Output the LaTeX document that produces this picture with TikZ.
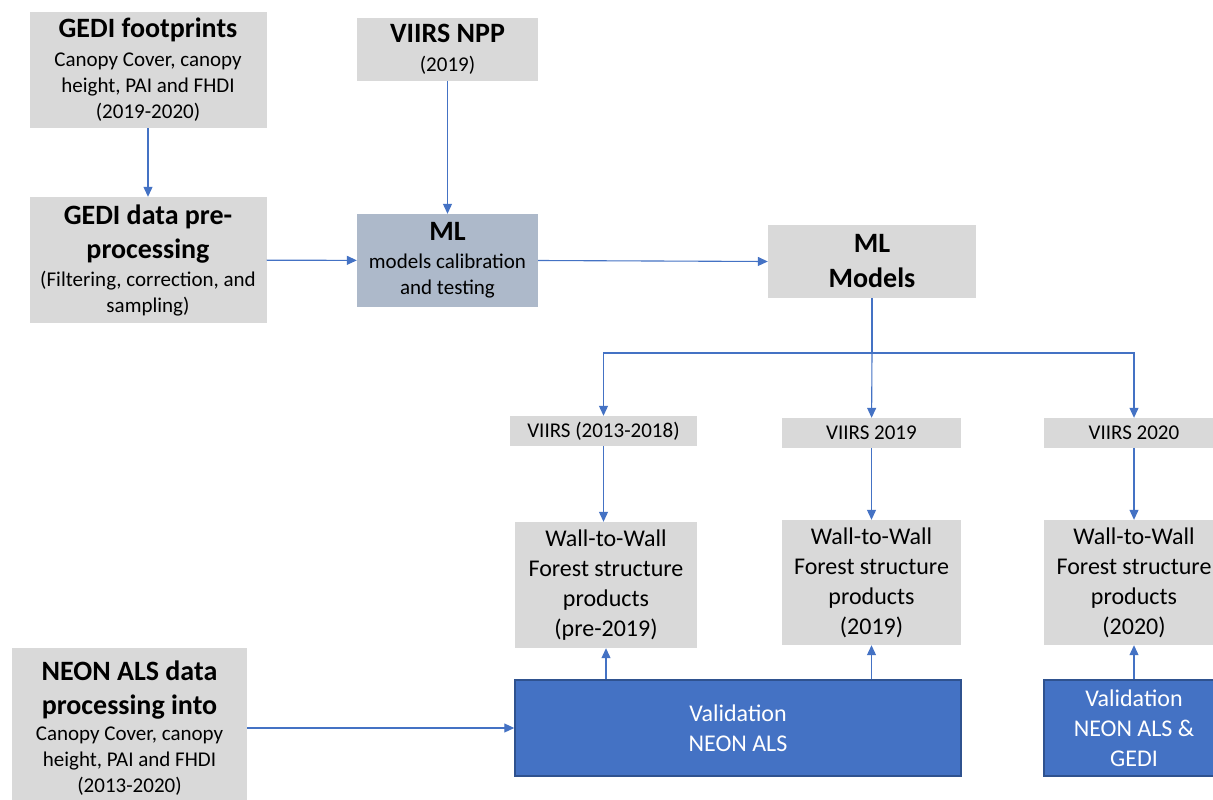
\documentclass[tikz,border=0pt]{standalone}
\usepackage{fontspec}
\setmainfont{Carlito}
\definecolor{flowGray}{HTML}{D9D9D9}
\definecolor{flowSlate}{HTML}{ADB9CA}
\definecolor{flowBlue}{HTML}{4472C4}
\definecolor{flowEdge}{HTML}{2F528F}
\usetikzlibrary{arrows.meta, positioning, calc}
\newcommand{\boxhead}[1]{{\fontsize{28}{34}\selectfont\bfseries #1}}

\begin{document}
\begin{tikzpicture}[x=1pt, y=-1pt,
  gbox/.style={fill=flowGray, inner sep=0pt, align=center,
    font=\fontsize{21}{26}\selectfont},
  sbox/.style={gbox, fill=flowSlate},
  vbox/.style={fill=flowBlue, draw=flowEdge, line width=1.5pt, inner sep=0pt,
    align=center, text=white, font=\fontsize{24}{30}\selectfont},
  wbox/.style={gbox, font=\fontsize{24}{30}\selectfont},
  arr/.style={draw=flowBlue, line width=1.1pt, -{Triangle[length=10pt, width=9pt]}}]

  \useasboundingbox[fill=white] (0,0) rectangle (1213,800);

  \node[gbox, minimum width=237, minimum height=116] (gedi) at (148,70) {
    \boxhead{GEDI footprints}\\[3pt] Canopy Cover, canopy\\ height, PAI and FHDI\\ (2019-2020)};
  \node[gbox, minimum width=181, minimum height=63] (npp) at (447.5,49.5) {
    \boxhead{VIIRS NPP}\\[3pt] (2019)};
  \node[gbox, minimum width=237, minimum height=126] (prep) at (148,260) {
    \boxhead{GEDI data pre-}\\[8pt] \boxhead{processing}\\[2pt] (Filtering, correction, and\\ sampling)};
  \node[sbox, minimum width=181, minimum height=93] (ml) at (447.5,260.5) {
    \boxhead{ML}\\[2pt] models calibration\\ and testing};
  \node[gbox, minimum width=208, minimum height=73] (mlm) at (872,261.5) {
    \boxhead{ML}\\[9pt] \boxhead{Models}};

  % yearly VIIRS inputs
  \node[gbox, minimum width=187, minimum height=30] (v13) at (603.5,431) {VIIRS (2013-2018)};
  \node[gbox, minimum width=179, minimum height=30] (v19) at (871.5,433) {VIIRS 2019};
  \node[gbox, minimum width=180, minimum height=30] (v20) at (1134,433) {VIIRS 2020};

  \node[wbox, minimum width=182, minimum height=126] (w13) at (606,585) {
    Wall-to-Wall\\ Forest structure\\ products\\ (pre-2019)};
  \node[wbox, minimum width=179, minimum height=125] (w19) at (871.5,582.5) {
    Wall-to-Wall\\ Forest structure\\ products\\ (2019)};
  \node[wbox, minimum width=180, minimum height=125] (w20) at (1134,582.5) {
    Wall-to-Wall\\ Forest structure\\ products\\ (2020)};

  % validation
  \node[gbox, minimum width=235, minimum height=160] (neon) at (129.5,728) {
    \boxhead{NEON ALS data}\\[8pt] \boxhead{processing into}\\ Canopy Cover, canopy\\ height, PAI and FHDI\\ (2013-2020)};
  \node[vbox, minimum width=446, minimum height=96] (val) at (738,728) {
    Validation\\ NEON ALS};
  \node[vbox, minimum width=180, minimum height=96] (valg) at (1134,728) {
    Validation\\ NEON ALS \&\\ GEDI};

  \coordinate (split) at (872,353);

  \draw[arr] (gedi) -- (prep);
  \draw[arr] (npp) -- (ml);
  \draw[arr] (prep) -- (ml);
  \draw[arr] (ml.east) -- (mlm.west);
  \draw[draw=flowBlue, line width=1.1pt] (mlm) -- (split);
  \draw[arr] (split) -| (v13);
  \draw[arr] (split) -- (v19);
  \draw[arr] (split) -| (v20);
  \draw[arr] (v13.south) -- (v13.south |- w13.north);
  \draw[arr] (v19) -- (w19);
  \draw[arr] (v20) -- (w20);
  \draw[arr] (w13.south |- val.north) -- (w13.south);
  \draw[arr] (w19.south |- val.north) -- (w19.south);
  \draw[arr] (valg) -- (w20);
  \draw[arr] (neon.east |- val.west) -- (val.west);
\end{tikzpicture}
\end{document}
